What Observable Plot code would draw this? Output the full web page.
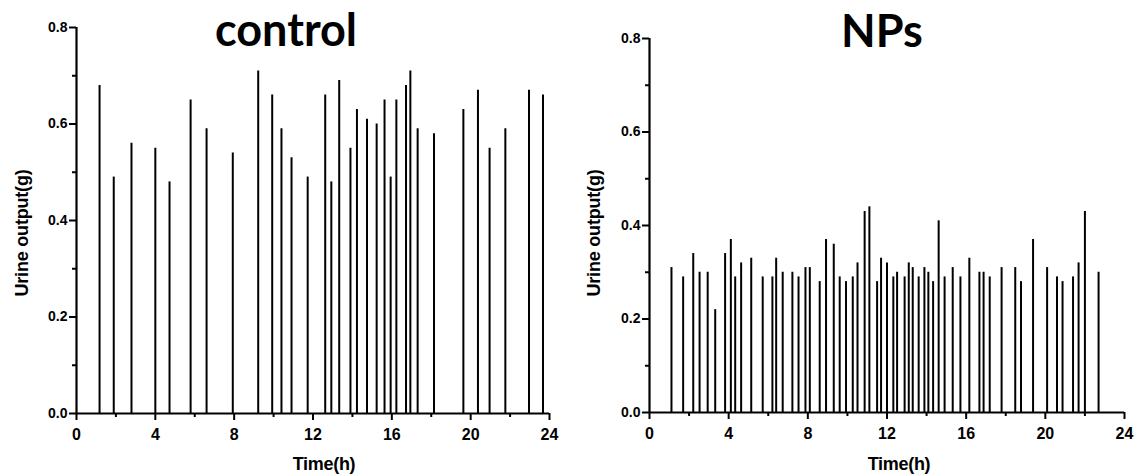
<!DOCTYPE html>
<html>
<head>
<meta charset="utf-8">
<script src="https://cdn.jsdelivr.net/npm/d3@7"></script>
<script src="https://cdn.jsdelivr.net/npm/@observablehq/plot@0.6"></script>
<style>
  html, body { margin: 0; padding: 0; background: #fff; }
  #wrap { position: relative; width: 1138px; height: 475px; overflow: hidden; font-family: "Liberation Sans", Arial, sans-serif; color: #000; }
  .panel { position: absolute; top: 0; }
  .title { position: absolute; font-family: Lato, "Open Sans", sans-serif; font-weight: 700; font-size: 45px; line-height: 1; transform: translateX(-50%); white-space: nowrap; }
  .xlab { position: absolute; font-weight: 700; font-size: 18px; line-height: 1; transform: translateX(-50%); white-space: nowrap; letter-spacing: -0.3px; }
  .ylab { position: absolute; font-weight: 700; font-size: 18px; line-height: 1; white-space: nowrap; transform: translate(-50%, -50%) rotate(-90deg); letter-spacing: -0.2px; }
</style>
</head>
<body>
<div id="wrap"></div>
<script>
// ---- data ----
const controlTime = [1.17, 1.89, 2.79, 4.0, 4.72, 5.79, 6.6, 7.93, 9.22, 9.93, 10.4, 10.91, 11.73, 12.62, 12.93, 13.33, 13.9, 14.23, 14.74, 15.23, 15.63, 15.94, 16.23, 16.72, 16.94, 17.31, 18.14, 19.63, 20.37, 20.96, 21.76, 22.96, 23.67];
const controlValue = [0.68, 0.49, 0.56, 0.55, 0.48, 0.65, 0.59, 0.54, 0.71, 0.66, 0.59, 0.53, 0.49, 0.66, 0.48, 0.69, 0.55, 0.63, 0.61, 0.60, 0.65, 0.49, 0.65, 0.68, 0.71, 0.59, 0.58, 0.63, 0.67, 0.55, 0.59, 0.67, 0.66];

const npsTime = [1.11, 1.70, 2.21, 2.53, 2.94, 3.32, 3.82, 4.11, 4.33, 4.63, 5.14, 5.72, 6.21, 6.40, 6.73, 7.22, 7.53, 7.88, 8.10, 8.60, 8.92, 9.31, 9.61, 9.93, 10.27, 10.51, 10.87, 11.11, 11.50, 11.70, 12.0, 12.32, 12.51, 12.89, 13.10, 13.30, 13.60, 13.89, 14.09, 14.33, 14.61, 14.91, 15.32, 15.71, 16.16, 16.67, 16.88, 17.19, 17.79, 18.48, 18.77, 19.38, 20.09, 20.59, 20.87, 21.40, 21.68, 22.0, 22.69];
const npsValue = [0.31, 0.29, 0.34, 0.30, 0.30, 0.22, 0.34, 0.37, 0.29, 0.32, 0.33, 0.29, 0.29, 0.33, 0.30, 0.30, 0.29, 0.31, 0.31, 0.28, 0.37, 0.36, 0.29, 0.28, 0.29, 0.32, 0.43, 0.44, 0.28, 0.33, 0.32, 0.29, 0.30, 0.29, 0.32, 0.31, 0.29, 0.31, 0.30, 0.28, 0.41, 0.29, 0.31, 0.29, 0.33, 0.30, 0.30, 0.29, 0.31, 0.31, 0.28, 0.37, 0.31, 0.29, 0.28, 0.29, 0.32, 0.43, 0.30];

const xMajor = [0, 4, 8, 12, 16, 20, 24];
const xMinor = [2, 6, 10, 14, 18, 22];
const yMajor = [0, 0.2, 0.4, 0.6, 0.8];
const yMinor = [0.1, 0.3, 0.5, 0.7];

const panels = [
  {title: "control", time: controlTime, value: controlValue, left: 0, mL: 76, mR: 20, mT: 27, mB: 62, titleX: 286, titleY: 7, xlabX: 324, ylabX: 22},
  {title: "NPs", time: npsTime, value: npsValue, left: 569, mL: 80, mR: 14, mT: 38, mB: 63, titleX: 882, titleY: 8, xlabX: 899, ylabX: 594}
];

const wrap = document.getElementById("wrap");
const blank = () => "";

for (const p of panels) {
  const data = p.time.map((t, i) => ({t, v: p.value[i]}));
  const chart = Plot.plot({
    width: 569,
    height: 475,
    marginLeft: p.mL,
    marginRight: p.mR,
    marginTop: p.mT,
    marginBottom: p.mB,
    style: {background: "#fff", color: "#000", fontFamily: "'Liberation Sans', Arial, sans-serif", overflow: "visible"},
    x: {domain: [0, 24]},
    y: {domain: [0, 0.8]},
    marks: [
      Plot.ruleX(data, {x: "t", y1: 0, y2: "v", stroke: "#000", strokeWidth: 2}),
      Plot.axisX(xMajor, {tickSize: 7, tickPadding: 8, fontSize: 16, fontWeight: "bold", strokeWidth: 2, label: null, tickFormat: d => String(d)}),
      Plot.axisX(xMinor, {tickSize: 4, strokeWidth: 2, label: null, tickFormat: blank}),
      Plot.axisY(yMajor, {tickSize: 7, tickPadding: 2, fontSize: 14, fontWeight: "bold", strokeWidth: 2, label: null, tickFormat: d3.format(".1f")}),
      Plot.axisY(yMinor, {tickSize: 4, strokeWidth: 2, label: null, tickFormat: blank}),
      Plot.ruleY([0], {stroke: "#000", strokeWidth: 2.2}),
      Plot.ruleX([0], {stroke: "#000", strokeWidth: 2.2})
    ]
  });
  chart.classList.add("panel");
  chart.style.left = p.left + "px";
  wrap.appendChild(chart);

  const t = document.createElement("div");
  t.className = "title";
  t.textContent = p.title;
  t.style.left = p.titleX + "px";
  t.style.top = p.titleY + "px";
  wrap.appendChild(t);

  const xl = document.createElement("div");
  xl.className = "xlab";
  xl.textContent = "Time(h)";
  xl.style.left = p.xlabX + "px";
  xl.style.top = "455px";
  wrap.appendChild(xl);

  const yl = document.createElement("div");
  yl.className = "ylab";
  yl.textContent = "Urine output(g)";
  yl.style.left = p.ylabX + "px";
  yl.style.top = "233px";
  wrap.appendChild(yl);
}
</script>
</body>
</html>
